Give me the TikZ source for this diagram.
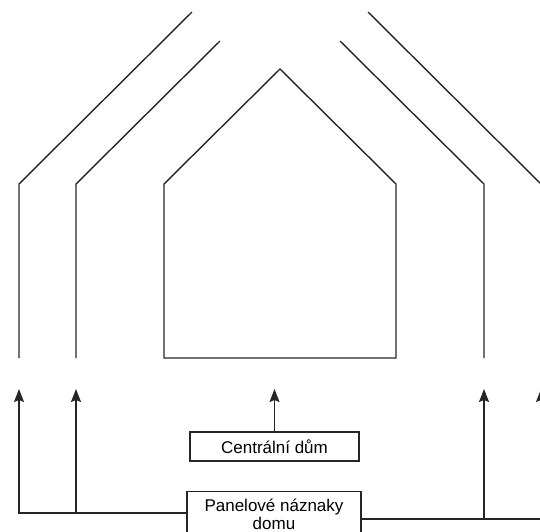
\documentclass[tikz,border=0pt]{standalone}
\usepackage{fontspec}
\setmainfont{Liberation Sans}
\usetikzlibrary{arrows.meta}
\definecolor{ink}{HTML}{262626}

\begin{document}
\begin{tikzpicture}[x=1pt,y=-1pt,line/.style={ink,line width=1.4pt},arr/.style={line,-{Stealth[length=13pt,width=10pt,inset=2pt]}},
 box/.style={draw=ink,line width=1.2pt,fill=white,font=\fontsize{17}{18}\selectfont,align=center,inner sep=0pt}]
 \useasboundingbox (0,0) rectangle (540,531);
 \clip (0,0) rectangle (540,531);
 % panel outlines and the central house
 \draw[line] (19,358)--(19,184)--(192,12);
 \draw[line] (76,358)--(76,184)--(220,41);
 \draw[line] (164,358)--(164,184)--(280,69)--(396,184)--(396,358)--cycle;
 \draw[line] (484,358)--(484,184)--(340,41);
 \draw[line] (541,358)--(541,184)--(368,12);
 % labels
 \node[box,minimum width=169pt,minimum height=29pt] (central) at (274.5,446.5) {Centrální dům};
 \node[box,minimum width=174pt,minimum height=46pt,anchor=north] (panel) at (274,491) {Panelové náznaky\\domu};
 \foreach \n/\x in {a/19,b/76,m/274.5,c/484,d/541}{\coordinate (tip\n) at (\x,389);}
 \draw[arr] (central) -- (tipm);
 \draw[arr] (panel.west |- 0,513) -| (tipa);
 \draw[arr] (tipb |- 0,513) -- (tipb);
 \draw[arr] (panel.east |- 0,519) -| (tipd);
 \draw[arr] (tipc |- 0,519) -- (tipc);
\end{tikzpicture}
\end{document}
